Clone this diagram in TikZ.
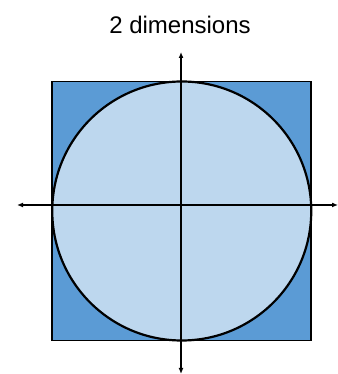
\documentclass[tikz,border=0pt]{standalone}
\usepackage{fontspec}
\setmainfont{Liberation Sans}
\usetikzlibrary{arrows.meta,positioning,calc}
\definecolor{sqblue}{HTML}{5B9BD5}
\definecolor{discblue}{HTML}{BDD7EE}
\begin{document}
\begin{tikzpicture}[x=1pt,y=1pt,axis/.style={line width=1.8pt,-{Latex[length=6pt,width=5pt]}}]
\useasboundingbox (0,0) rectangle (337,374);
\coordinate (c) at (181.75,163);\coordinate (o) at (181,169);
\coordinate (xl) at (17,169);\coordinate (xr) at (338,169);\coordinate (yt) at (181,322);\coordinate (yb) at (181,0);
\draw[line width=1.8pt,fill=sqblue] ($(c)+(-129.5,-129.5)$) rectangle ($(c)+(129.5,129.5)$);
\draw[line width=2.2pt,fill=discblue] (c) circle (129.5);
\draw[axis] (o)--(xl);\draw[axis] (o)--(xr);\draw[axis] (o)--(yt);\draw[axis] (o)--(yb);
\node[anchor=base,font=\fontsize{24}{28}\selectfont] (title) at (180,340) {2 dimensions};
\end{tikzpicture}
\end{document}
